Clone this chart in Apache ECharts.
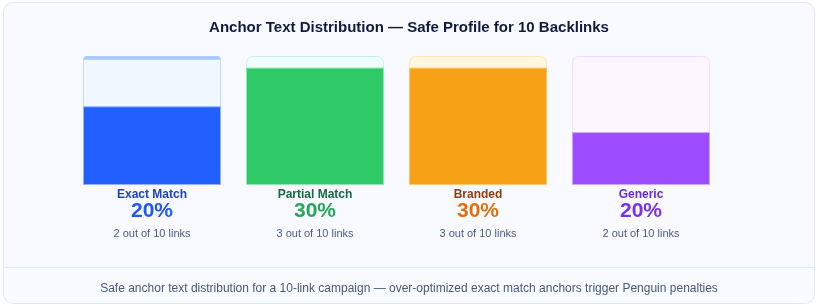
<!DOCTYPE html>
<html>
<head>
<meta charset="utf-8">
<script src="https://cdn.jsdelivr.net/npm/echarts@6/dist/echarts.min.js"></script>
<style>
  html, body { margin: 0; padding: 0; background: #ffffff; }
  #card { position: absolute; left: 3px; top: 2px; width: 810px; height: 300px;
          border: 1px solid #dce8fa; border-radius: 10px; background: #f8faff; overflow: hidden; }
  #footerBg { position: absolute; left: 0; top: 264px; width: 100%; height: 40px;
              border-top: 1px solid #dde8f8; background: #f8fbff; }
  #chart { position: absolute; left: 0; top: 0; width: 818px; height: 307px; }
</style>
</head>
<body>
<div id="card"><div id="footerBg"></div></div>
<div id="chart"></div>
<script>
// ---- data ----
const categories = ['Exact Match', 'Partial Match', 'Branded', 'Generic'];
const percentages = [20, 30, 30, 20];
const linkCounts = [2, 3, 3, 2];
const totalLinks = 10;
// fill level of each gauge box (percent of box height)
const fillLevels = [61, 91, 91, 41];
const boxMax = [100, 100, 100, 100];

// ---- styles ----
const fillColors = ['#2160ff', '#2fca67', '#f7a116', '#9d4dff'];
const fillBorders = ['#8fb3ff', '#8ee8b0', '#fbc96a', '#cfa6ff'];
const trackColors = ['#eff8ff', '#f0fdfa', '#fff7e2', '#fef6ff'];
const trackBorders = ['#bcd9fd', '#bff5e6', '#fde8ad', '#ecdcff'];
const nameColors = ['#1a43c2', '#17683f', '#8f3b0f', '#6a28dc'];
const pctColors = ['#2158f5', '#26a65a', '#de7010', '#7a30f2'];
const subColor = '#4a5b85';
const FONT = 'Liberation Sans, Arial, sans-serif';

const rich = {};
categories.forEach((c, i) => {
  rich['n' + i] = { fontSize: 12, fontWeight: 'bold', color: nameColors[i], lineHeight: 14, fontFamily: FONT };
  rich['p' + i] = { fontSize: 21, fontWeight: 'bold', color: pctColors[i], lineHeight: 18, fontFamily: FONT };
  rich['s' + i] = { fontSize: 11, color: subColor, lineHeight: 27, fontFamily: FONT };
});

const chart = echarts.init(document.getElementById('chart'), null, { renderer: 'canvas' });
chart.setOption({
  backgroundColor: 'transparent',
  animation: false,
  title: [
    { text: 'Anchor Text Distribution — Safe Profile for 10 Backlinks', left: 'center', top: 15,
      textStyle: { fontSize: 15, fontWeight: 'bold', color: '#0f1b3d', fontFamily: FONT } },
    { text: 'Safe anchor text distribution for a 10-link campaign — over-optimized exact match anchors trigger Penguin penalties',
      left: 'center', top: 278,
      textStyle: { fontSize: 12, fontWeight: 'normal', color: '#45577e', fontFamily: FONT } }
  ],
  grid: { left: 70.5, right: 95.5, top: 56, bottom: 122, containLabel: false },
  xAxis: {
    type: 'category', data: categories,
    axisLine: { show: false }, axisTick: { show: false },
    axisLabel: {
      margin: 3,
      interval: 0,
      formatter: (v, i) => `{n${i}|${v}}\n{p${i}|${percentages[i]}%}\n{s${i}|${linkCounts[i]} out of ${totalLinks} links}`,
      rich
    }
  },
  yAxis: { type: 'value', min: 0, max: 100, show: false, splitLine: { show: false } },
  series: [
    {
      name: 'box', type: 'bar', barWidth: 138, barGap: '-100%', silent: true,
      data: boxMax.map((v, i) => ({ value: v, itemStyle: { color: trackColors[i], borderColor: trackBorders[i], borderWidth: 1, borderRadius: [6, 6, 0, 0] } }))
    },
    {
      name: 'capBase', type: 'bar', stack: 'cap', barWidth: 138, barGap: '-100%', silent: true,
      itemStyle: { color: 'transparent' },
      data: [97, '-', '-', '-']
    },
    {
      name: 'cap', type: 'bar', stack: 'cap', barWidth: 138, barGap: '-100%', silent: true,
      itemStyle: { color: '#a9cafb', borderRadius: [6, 6, 0, 0] },
      data: [3, '-', '-', '-']
    },
    {
      name: 'fill', type: 'bar', barWidth: 138, barGap: '-100%',
      data: fillLevels.map((v, i) => ({ value: v, itemStyle: { color: fillColors[i], borderColor: fillBorders[i], borderWidth: 1 } }))
    }
  ]
});
</script>
</body>
</html>
